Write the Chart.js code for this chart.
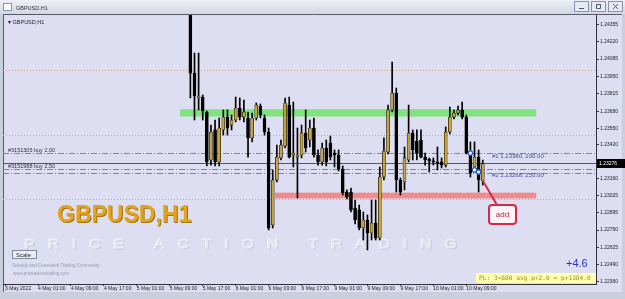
<!DOCTYPE html>
<html>
<head>
<meta charset="utf-8">
<script src="https://cdn.jsdelivr.net/npm/chart.js@4.4.1/dist/chart.umd.min.js"></script>
<style>
  html, body { margin: 0; padding: 0; background: #c9cfdd; }
  canvas { display: block; }
</style>
</head>
<body>
<canvas id="myChart" width="625" height="299"></canvas>
<script>
// hourly candles (the ones before 5 May 14:00 sit above the visible range)
const leadEmpty = 45;
const totalSlots = 144;

const opens = [1.24600, 1.23977, 1.23784, 1.23791, 1.23675, 1.23303, 1.23536, 1.23288, 1.23536, 1.23636,
  1.23574, 1.23613, 1.23706, 1.23636, 1.23629, 1.23474, 1.23629, 1.23722, 1.23629, 1.23520,
  1.22799, 1.23148, 1.23319, 1.23412, 1.23729, 1.23342, 1.23326, 1.23342, 1.23512, 1.23458,
  1.23551, 1.23342, 1.23288, 1.23396, 1.23435, 1.23357, 1.23342, 1.23233, 1.23055, 1.23055,
  1.22931, 1.22916, 1.22776, 1.22838, 1.22737, 1.22815, 1.22699, 1.23171, 1.23365, 1.23691,
  1.23822, 1.23148, 1.23133, 1.23303, 1.23512, 1.23450, 1.23458, 1.23326, 1.23311, 1.23295,
  1.23288, 1.23288, 1.23264, 1.23520, 1.23636, 1.23667, 1.23691, 1.23636, 1.23357, 1.23249,
  1.23326, 1.23140];
const highs = [1.24650, 1.24132, 1.24132, 1.23807, 1.23683, 1.23574, 1.23613, 1.23629, 1.23691, 1.23691,
  1.23652, 1.23791, 1.23784, 1.23768, 1.23675, 1.23667, 1.23745, 1.23737, 1.23652, 1.23551,
  1.23226, 1.23419, 1.23458, 1.23784, 1.23791, 1.23753, 1.23551, 1.23574, 1.23691, 1.23613,
  1.23629, 1.23381, 1.23435, 1.23458, 1.23489, 1.23381, 1.23381, 1.23257, 1.23071, 1.23086,
  1.22993, 1.22954, 1.22900, 1.22877, 1.22993, 1.22993, 1.23249, 1.23474, 1.23729, 1.24063,
  1.23861, 1.23164, 1.23404, 1.23729, 1.23536, 1.23536, 1.23536, 1.23357, 1.23319, 1.23319,
  1.23404, 1.23319, 1.23559, 1.23714, 1.23691, 1.23722, 1.23753, 1.23652, 1.23443, 1.23443,
  1.23381, 1.23303];
const lows = [1.23784, 1.23613, 1.23691, 1.23613, 1.23257, 1.23264, 1.23257, 1.23257, 1.23497, 1.23497,
  1.23536, 1.23598, 1.23613, 1.23598, 1.23326, 1.23443, 1.23613, 1.23629, 1.23497, 1.22761,
  1.22776, 1.23133, 1.23303, 1.23396, 1.23319, 1.23249, 1.23009, 1.23319, 1.23365, 1.23404,
  1.23326, 1.23264, 1.23264, 1.23257, 1.23303, 1.23249, 1.23218, 1.23032, 1.23001, 1.22900,
  1.22807, 1.22761, 1.22683, 1.22606, 1.22683, 1.22683, 1.22683, 1.23148, 1.23350, 1.23675,
  1.23055, 1.23032, 1.23071, 1.23288, 1.23303, 1.23303, 1.23319, 1.23264, 1.23210, 1.23264,
  1.23226, 1.23241, 1.23249, 1.23505, 1.23621, 1.23652, 1.23621, 1.23350, 1.23171, 1.23226,
  1.23055, 1.23109];
const closes = [1.23977, 1.23799, 1.23799, 1.23683, 1.23288, 1.23520, 1.23288, 1.23551, 1.23636, 1.23551,
  1.23613, 1.23706, 1.23636, 1.23675, 1.23474, 1.23629, 1.23729, 1.23652, 1.23520, 1.22776,
  1.23148, 1.23326, 1.23419, 1.23745, 1.23326, 1.23357, 1.23342, 1.23512, 1.23396, 1.23551,
  1.23342, 1.23288, 1.23396, 1.23288, 1.23326, 1.23342, 1.23233, 1.23047, 1.23016, 1.22916,
  1.22838, 1.22776, 1.22838, 1.22737, 1.22815, 1.22699, 1.23171, 1.23373, 1.23691, 1.23822,
  1.23148, 1.23055, 1.23319, 1.23512, 1.23381, 1.23357, 1.23326, 1.23303, 1.23295, 1.23288,
  1.23272, 1.23264, 1.23520, 1.23636, 1.23667, 1.23691, 1.23636, 1.23357, 1.23202, 1.23326,
  1.23148, 1.23276];

const lastPrice = 1.23276;

// price axis
const yMin = 1.22342;
const yMax = 1.24427;
const yTicks = [1.24355, 1.24220, 1.24085, 1.23950, 1.23815, 1.23680, 1.23550, 1.23420,
  1.23160, 1.23025, 1.22895, 1.22760, 1.22625, 1.22490, 1.22360];

// time axis labels
const xTickSlots = [0, 8, 16, 24, 32, 40, 48, 56, 64, 72, 80, 88, 96, 104, 112];
const xTickLabels = ["3 May 2022", "4 May 01:00", "4 May 09:00", "4 May 17:00", "5 May 01:00",
  "5 May 09:00", "5 May 17:00", "6 May 01:00", "6 May 09:00", "6 May 17:00", "9 May 01:00",
  "9 May 09:00", "9 May 17:00", "10 May 01:00", "10 May 09:00"];

// zones: [from slot, to slot, top price, bottom price]
const supplyZone = [43, 129, 1.23697, 1.23640];
const demandZone = [66, 129, 1.23050, 1.23005];
const roundLevels = [1.24000, 1.23500, 1.23000];
const orderLabels = ["#3151305 buy 2.00", "#3151988 buy 2.50"];
const orderPrices = [1.23357, 1.23233];
const orderExtraLine = 1.23202;
const entrySlots = [113, 114, 115];
const entryPrices = [1.23357, 1.23226, 1.23210];
const entryTexts = ["#1 1.23380, 200.00", "#2 1.23268, 250.00"];

// hourly categories, weekend skipped
const categories = [];
let t = Date.UTC(2022, 4, 3, 17);
while (categories.length < totalSlots) {
  const d = new Date(t);
  if (d.getUTCDay() === 6) { t += 48 * 3600e3; continue; }
  categories.push(`${d.getUTCDate()} May ${String(d.getUTCHours()).padStart(2, "0")}:00`);
  t += 3600e3;
}

const bullColor = "#c8a43c";
const bearColor = "#000000";
const pad = n => Array(n).fill(null);
const trail = totalSlots - leadEmpty - opens.length;
const wickData = [...pad(leadEmpty), ...lows.map((l, i) => [l, highs[i]]), ...pad(trail)];
const bodyData = [...pad(leadEmpty), ...opens.map((o, i) => [o, closes[i]]), ...pad(trail)];
const bodyColors = [...pad(leadEmpty), ...opens.map((o, i) => closes[i] >= o ? bullColor : bearColor), ...pad(trail)];

const font = "Liberation Sans";

function hLine(ctx, a, py, color, dash, width) {
  ctx.save();
  ctx.strokeStyle = color;
  ctx.lineWidth = width || 1;
  ctx.setLineDash(dash || []);
  ctx.beginPath();
  ctx.moveTo(a.left, Math.round(py) + 0.5);
  ctx.lineTo(a.right, Math.round(py) + 0.5);
  ctx.stroke();
  ctx.restore();
}

const overlay = {
  id: "overlay",
  beforeDraw(chart) {
    const { ctx } = chart;
    ctx.save();
    ctx.fillStyle = "#c9cfdd";
    ctx.fillRect(0, 0, 625, 299);
    // title bar
    const g = ctx.createLinearGradient(0, 0, 0, 14);
    g.addColorStop(0, "#eef0f6");
    g.addColorStop(1, "#d2d7e3");
    ctx.fillStyle = g;
    ctx.fillRect(0, 0, 625, 14);
    ctx.strokeStyle = "#8a93a8";
    ctx.strokeRect(3.5, 3.5, 8, 7);
    ctx.fillStyle = "#ffffff";
    ctx.fillRect(4, 4, 7, 6);
    ctx.fillStyle = "#303040";
    ctx.font = `5.5px ${font}`;
    ctx.textBaseline = "middle";
    ctx.fillText("GBPUSD,H1", 16, 8);
    [574, 591, 608].forEach((bx, i) => {
      ctx.fillStyle = "#e6e9f1";
      ctx.fillRect(bx, 1, 15, 11);
      ctx.strokeStyle = "#8a93a8";
      ctx.strokeRect(bx + 0.5, 1.5, 14, 10);
      ctx.strokeStyle = "#505870";
      ctx.beginPath();
      if (i === 0) { ctx.moveTo(bx + 5, 8.5); ctx.lineTo(bx + 10, 8.5); }
      if (i === 1) { ctx.rect(bx + 5.5, 4.5, 4, 4); }
      if (i === 2) { ctx.moveTo(bx + 5, 4); ctx.lineTo(bx + 10, 9); ctx.moveTo(bx + 10, 4); ctx.lineTo(bx + 5, 9); }
      ctx.stroke();
    });
    // client area
    ctx.fillStyle = "#dedef2";
    ctx.fillRect(3, 14, 619, 278);
    ctx.strokeStyle = "#5a5a6a";
    ctx.beginPath();
    ctx.moveTo(3.5, 14); ctx.lineTo(3.5, 292);
    ctx.moveTo(3, 14.5); ctx.lineTo(622, 14.5);
    ctx.stroke();
    ctx.restore();
  },
  beforeDatasetsDraw(chart) {
    const { ctx, chartArea: a, scales: { x, y } } = chart;
    ctx.save();
    // embossed watermark
    ctx.save();
    ctx.translate(24, 248);
    ctx.scale(1.3, 1);
    ctx.font = `12px ${font}`;
    ctx.letterSpacing = "10px";
    ctx.textBaseline = "alphabetic";
    ctx.lineWidth = 1;
    ctx.strokeStyle = "rgba(160,160,190,0.35)";
    ctx.strokeText("PRICE ACTION TRADING", 0.8, 0.8);
    ctx.strokeStyle = "rgba(255,255,255,0.6)";
    ctx.strokeText("PRICE ACTION TRADING", 0, 0);
    ctx.restore();
    // round-number dotted levels
    roundLevels.forEach(p => hLine(ctx, a, y.getPixelForValue(p), "#c8a67a", [1, 2]));
    // zones
    [[supplyZone, "#80e47e"], [demandZone, "#f08c8c"]].forEach(([z, c]) => {
      const x0 = x.getPixelForValue(z[0]) - 2;
      const x1 = x.getPixelForValue(z[1]);
      const y0 = y.getPixelForValue(z[2]);
      const y1 = y.getPixelForValue(z[3]);
      ctx.fillStyle = c;
      ctx.fillRect(x0, y0, x1 - x0, y1 - y0);
    });
    // order lines
    orderPrices.forEach(p => hLine(ctx, a, y.getPixelForValue(p), "#9a6cc0", [6, 2, 1, 2]));
    hLine(ctx, a, y.getPixelForValue(orderExtraLine), "#9a6cc0", [6, 2, 1, 2]);
    // bid line
    hLine(ctx, a, y.getPixelForValue(lastPrice), "#55555f");
    ctx.restore();
  },
  afterDraw(chart) {
    const { ctx, chartArea: a, scales: { x, y } } = chart;
    ctx.save();
    ctx.textBaseline = "middle";
    // symbol caption
    ctx.fillStyle = "#202028";
    ctx.font = `5.5px ${font}`;
    ctx.fillText("\u25BE GBPUSD,H1", 8, 22);
    // order captions
    orderPrices.forEach((p, i) => {
      const py = y.getPixelForValue(p);
      ctx.fillStyle = "#303040";
      ctx.fillText(orderLabels[i], 8, py - 3);
    });
    // entry markers
    entrySlots.forEach((s, i) => {
      ctx.beginPath();
      ctx.arc(x.getPixelForValue(s), y.getPixelForValue(entryPrices[i]), 2.2, 0, Math.PI * 2);
      ctx.fillStyle = "#ffffff";
      ctx.fill();
      ctx.strokeStyle = "#2060c8";
      ctx.lineWidth = 1.2;
      ctx.stroke();
    });
    ctx.fillStyle = "#4a4a90";
    ctx.font = `6px ${font}`;
    ctx.fillText(entryTexts[0], 492, y.getPixelForValue(orderPrices[0]) + 3);
    ctx.fillText(entryTexts[1], 492, y.getPixelForValue(orderExtraLine) + 2);
    // big symbol text
    ctx.font = `bold 23px ${font}`;
    ctx.textBaseline = "alphabetic";
    ctx.fillStyle = "#9c7410";
    ctx.fillText("GBPUSD,H1", 58, 223);
    ctx.fillStyle = "#e2a41e";
    ctx.fillText("GBPUSD,H1", 57, 222);
    // scale button
    ctx.fillStyle = "#eceef4";
    ctx.fillRect(12, 250, 25, 9);
    ctx.strokeStyle = "#8088a0";
    ctx.lineWidth = 1;
    ctx.strokeRect(12.5, 250.5, 24, 8);
    ctx.fillStyle = "#202028";
    ctx.font = `6px ${font}`;
    ctx.textBaseline = "middle";
    ctx.fillText("Scale", 16, 255);
    ctx.fillStyle = "#9a9ab0";
    ctx.font = `4.5px ${font}`;
    ctx.fillText("Subsidy and Consistent Trading Community", 12, 266);
    ctx.fillText("www.priceactiontrading.com", 13, 274);
    // "add" callout
    ctx.strokeStyle = "#d8284a";
    ctx.lineWidth = 2;
    ctx.beginPath();
    ctx.moveTo(483, 181);
    ctx.lineTo(497, 205);
    ctx.stroke();
    ctx.beginPath();
    ctx.roundRect(489, 205, 27, 19, 3);
    ctx.fillStyle = "#fff4f6";
    ctx.fill();
    ctx.stroke();
    ctx.fillStyle = "#c01838";
    ctx.font = `8px ${font}`;
    ctx.textAlign = "center";
    ctx.fillText("add", 502.5, 214.5);
    ctx.textAlign = "left";
    // profit counter
    ctx.fillStyle = "#2234bc";
    ctx.font = `11px ${font}`;
    ctx.fillText("+4.6", 566, 264);
    ctx.fillStyle = "#ffffb0";
    ctx.fillRect(476, 273, 120, 10);
    ctx.fillStyle = "#a08c30";
    ctx.font = `6.2px "DejaVu Sans Mono"`;
    ctx.fillText("PL: 3<680 avg p+2.0 = p+1384.0", 479, 278);
    // last price tag
    const py = Math.round(y.getPixelForValue(lastPrice));
    ctx.fillStyle = "#000000";
    ctx.fillRect(597, py - 4, 28, 9);
    ctx.fillStyle = "#ffffff";
    ctx.font = `5px ${font}`;
    ctx.fillText(lastPrice.toFixed(5), 599, py + 0.5);
    ctx.restore();
  }
};

new Chart(document.getElementById("myChart"), {
  type: "bar",
  data: {
    labels: categories,
    datasets: [
      { label: "wick", data: wickData, backgroundColor: "#000000", barThickness: 1, grouped: false, order: 2, minBarLength: 1 },
      { label: "body", data: bodyData, backgroundColor: bodyColors, borderColor: "#000000", borderWidth: 0.6,
        borderSkipped: false, barThickness: 3, grouped: false, order: 1, minBarLength: 1 }
    ]
  },
  options: {
    responsive: false,
    animation: false,
    layout: { padding: { top: 15, left: 3, right: 0, bottom: 0 } },
    plugins: { legend: { display: false }, tooltip: { enabled: false } },
    scales: {
      x: {
        type: "category",
        offset: true,
        afterBuildTicks: s => { s.ticks = xTickSlots.map(v => ({ value: v })); },
        afterFit: s => { s.height = 15; },
        ticks: {
          callback: v => xTickLabels[xTickSlots.indexOf(v)],
          autoSkip: false, maxRotation: 0, align: "start",
          font: { family: font, size: 5 }, color: "#202028", padding: 0
        },
        grid: { drawOnChartArea: false, offset: false, tickLength: 2, color: "#303040" },
        border: { color: "#303040" }
      },
      y: {
        type: "linear",
        position: "right",
        min: yMin,
        max: yMax,
        afterBuildTicks: s => { s.ticks = yTicks.map(v => ({ value: v })); },
        afterFit: s => { s.width = 29; },
        ticks: {
          callback: v => v.toFixed(5),
          font: { family: font, size: 5 }, color: "#202028", padding: 1
        },
        grid: { drawOnChartArea: false, tickLength: 3, color: "#303040" },
        border: { color: "#303040" }
      }
    }
  },
  plugins: [overlay]
});
</script>
</body>
</html>
